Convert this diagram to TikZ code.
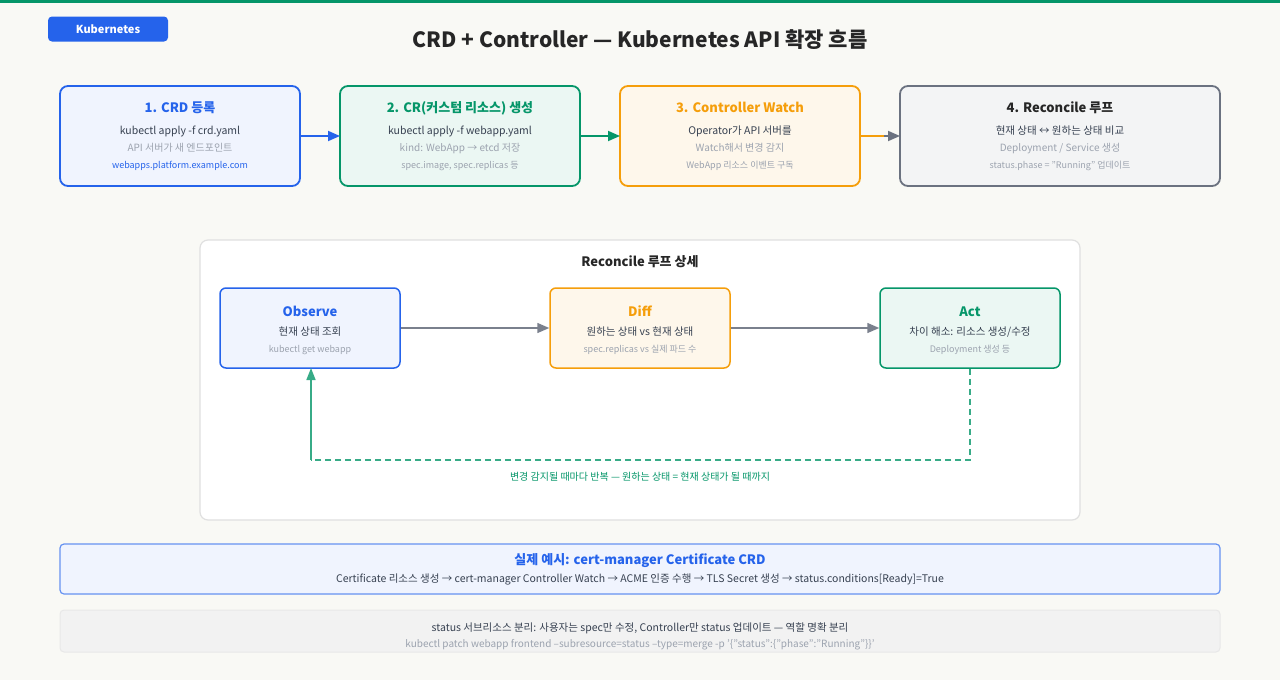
\documentclass[tikz,border=0pt]{standalone}
\usepackage{fontspec}
\setmainfont{Noto Sans CJK KR}
\usetikzlibrary{arrows.meta}
\definecolor{bg}{HTML}{F9F9F5}
\definecolor{cb}{HTML}{2563EB}
\definecolor{cg}{HTML}{059669}
\definecolor{co}{HTML}{F59E0B}
\definecolor{cgr}{HTML}{6B7280}
\definecolor{tx}{HTML}{374151}
\definecolor{lt}{HTML}{9CA3AF}
\begin{document}
\begin{tikzpicture}[x=1pt,y=-1pt,
 box/.style={draw=#1,line width=1.8pt,rounded corners=8pt},
 t/.style={font=\fontsize{13}{13}\selectfont\bfseries,anchor=base},
 a/.style={font=\fontsize{10.5}{10.5}\selectfont,text=tx,anchor=base},
 b/.style={font=\fontsize{10}{10}\selectfont,text=lt,anchor=base},
 c/.style={font=\fontsize{9}{9}\selectfont,text=lt,anchor=base},
 arr/.style={line width=1.8pt,-{Triangle[length=12pt,width=10pt]}}]
\fill[bg] (0,0) rectangle (1280,680);
\useasboundingbox (0,0) rectangle (1280,680);
\fill[cg] (0,0) rectangle (1280,3);
\node[fill=cb,rounded corners=4pt,minimum width=120pt,minimum height=25pt,text=white,font=\fontsize{11}{11}\selectfont\bfseries] (badge) at (108,29) {Kubernetes};
\node[font=\fontsize{21}{21}\selectfont\bfseries,text=black!85] (title) at (640,40) {CRD + Controller — Kubernetes API 확장 흐름};
% top boxes
\path[box=cb,fill=cb!7] (60,86) rectangle (300,186);
\node[coordinate] (b1) at (180,136) {};
\node[t,text=cb] (b1t) at (180,112) {1. CRD 등록};
\node[a] (b1a) at (180,134) {kubectl apply -f crd.yaml};
\node[b] (b1b) at (180,151) {API 서버가 새 엔드포인트};
\node[c,text=cb] (b1c) at (180,168) {webapps.platform.example.com};
\path[box=cg,fill=cg!8] (340,86) rectangle (580,186);
\node[t,text=cg] (b2t) at (460,112) {2. CR(커스텀 리소스) 생성};
\node[a] (b2a) at (460,134) {kubectl apply -f webapp.yaml};
\node[b] (b2b) at (460,151) {kind: WebApp → etcd 저장};
\node[c] (b2c) at (460,168) {spec.image, spec.replicas 등};
\path[box=co,fill=co!8] (620,86) rectangle (860,186);
\node[t,text=co] (b3t) at (740,112) {3. Controller Watch};
\node[a] (b3a) at (740,134) {Operator가 API 서버를};
\node[b] (b3b) at (740,151) {Watch해서 변경 감지};
\node[c] (b3c) at (740,168) {WebApp 리소스 이벤트 구독};
\path[box=cgr,fill=cgr!8] (900,86) rectangle (1220,186);
\node[t,text=black!85] (b4t) at (1060,112) {4. Reconcile 루프};
\node[a] (b4a) at (1060,134) {현재 상태 ↔ 원하는 상태 비교};
\node[b] (b4b) at (1060,151) {Deployment / Service 생성};
\node[c] (b4c) at (1060,168) {status.phase = "Running" 업데이트};
\coordinate (e1) at (300,136); \coordinate (s2) at (340,136);
\coordinate (e2) at (580,136); \coordinate (s3) at (620,136);
\coordinate (e3) at (860,136); \coordinate (s4) at (900,136);
\draw[arr,cb] (e1) -- (s2);
\draw[arr,cg] (e2) -- (s3);
\draw[line width=1.8pt,co] (e3) -- (885,136);
\draw[arr,cgr] (884,136) -- (s4);
% reconcile panel
\draw[fill=white,draw=black!12,line width=1.2pt,rounded corners=8pt] (200,240) rectangle (1080,520);
\node[font=\fontsize{13}{13}\selectfont\bfseries,text=black!85,anchor=base] (pt) at (640,266) {Reconcile 루프 상세};
\node[box=cb,fill=cb!7,line width=1.5pt,minimum width=180pt,minimum height=80pt,rounded corners=6pt] (obs) at (310,328) {};
\node[t,text=cb] at (310,316) {Observe};
\node[a] at (310,335) {현재 상태 조회};
\node[c] at (310,352) {kubectl get webapp};
\node[box=co,fill=co!8,line width=1.5pt,minimum width=180pt,minimum height=80pt,rounded corners=6pt] (dif) at (640,328) {};
\node[t,text=co] at (640,316) {Diff};
\node[a] at (640,335) {원하는 상태 vs 현재 상태};
\node[c] at (640,352) {spec.replicas vs 실제 파드 수};
\node[box=cg,fill=cg!8,line width=1.5pt,minimum width=180pt,minimum height=80pt,rounded corners=6pt] (act) at (970,328) {};
\node[t,text=cg] at (970,316) {Act};
\node[a] at (970,335) {차이 해소: 리소스 생성/수정};
\node[c] at (970,352) {Deployment 생성 등};
\draw[arr,cgr!90,line width=1.5pt] (obs.east) -- (dif.west);
\draw[arr,cgr!90,line width=1.5pt] (dif.east) -- (act.west);
\coordinate (c1) at (970,460); \coordinate (c2) at (311,460);
\draw[cg!80,line width=1.5pt,dashed,dash pattern=on 6pt off 4pt] (act.south) -- (c1) -- (c2);
\draw[cg!80,line width=1.5pt,-{Triangle[length=12pt,width=9pt]}] (c2) -- (311,368);
\node[font=\fontsize{10}{10}\selectfont,text=cg,anchor=base] (lab) at (640,480) {변경 감지될 때마다 반복 — 원하는 상태 = 현재 상태가 될 때까지};
% bottom
\draw[fill=cb!7,draw=cb!70,line width=1.2pt,rounded corners=4pt] (60,544) rectangle (1220,594);
\node[font=\fontsize{13}{13}\selectfont\bfseries,text=cb,anchor=base] (ex) at (640,564) {실제 예시: cert-manager Certificate CRD};
\node[a,font=\fontsize{10.5}{10.5}\selectfont] (ex2) at (640,582) {Certificate 리소스 생성 → cert-manager Controller Watch → ACME 인증 수행 → TLS Secret 생성 → status.conditions[Ready]=True};
\draw[fill=black!5,draw=black!9,line width=1pt,rounded corners=4pt] (60,610) rectangle (1220,652);
\node[a] (n1) at (640,631) {status 서브리소스 분리: 사용자는 spec만 수정, Controller만 status 업데이트 — 역할 명확 분리};
\node[b] (n2) at (640,647) {kubectl patch webapp frontend --subresource=status --type=merge -p '\{"status":\{"phase":"Running"\}\}'};
\end{tikzpicture}
\end{document}
